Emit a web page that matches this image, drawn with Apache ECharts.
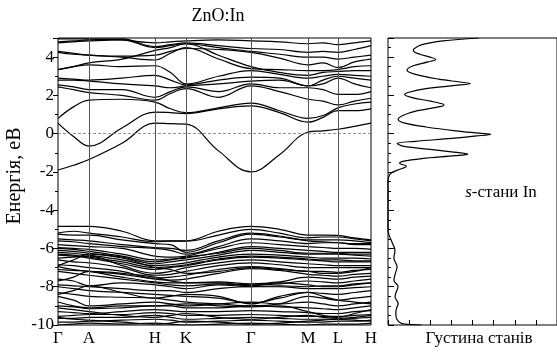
<!DOCTYPE html>
<html>
<head>
<meta charset="utf-8">
<script src="https://cdn.jsdelivr.net/npm/echarts@6/dist/echarts.min.js"></script>
<style>
  html, body { margin: 0; padding: 0; background: #fff; }
  #chart { width: 557px; height: 353px; }
</style>
</head>
<body>
<div id="chart"></div>
<script>
// k-path sample positions (Γ, ·, A, ·, H, ·, K, ·, Γ, ·, M, ·, L, ·, H)
const kPath = [0, 15.5, 31, 64, 97, 112.5, 128, 160.5, 193, 221.5, 250, 265, 280, 296.5, 313];
const kTicks = [0, 31, 97, 128, 193, 250, 280, 313];
const kLabels = ['Γ', 'A', 'H', 'K', 'Γ', 'M', 'L', 'H'];

// conduction bands, eV
const conductionBands = [
  [-1.9, -1.65, -1.35, -0.5, 0.55, 0.52, 0.5, -0.9, -2.0, -1.1, 0.08, 0.15, 0.23, 0.38, 0.55],
  [0.55, -0.15, -0.65, 0.3, 1.13, 1.1, 1.05, 1.3, 1.45, 1.1, 0.6, 0.85, 1.2, 1.2, 1.3],
  [0.8, 1.4, 1.75, 1.8, 1.65, 1.3, 1.1, 1.35, 1.6, 1.2, 0.8, 0.95, 1.35, 1.55, 1.65],
  [2.45, 2.3, 2.15, 2.0, 1.75, 2.1, 2.35, 1.9, 2.5, 2.2, 1.8, 1.7, 1.5, 1.7, 1.85],
  [2.55, 2.45, 2.3, 2.3, 1.9, 2.2, 2.45, 2.2, 2.6, 2.4, 2.4, 2.3, 2.05, 2.05, 2.2],
  [2.8, 2.8, 2.75, 2.6, 2.5, 2.4, 2.5, 2.6, 2.75, 2.8, 2.5, 2.6, 2.9, 2.6, 2.4],
  [2.9, 2.85, 2.8, 2.9, 3.05, 2.8, 2.55, 2.8, 2.95, 2.9, 2.5, 2.8, 3.0, 2.9, 2.8],
  [3.35, 3.5, 3.6, 3.5, 3.55, 3.2, 2.6, 3.0, 3.3, 3.1, 2.9, 3.0, 3.1, 3.05, 3.0],
  [3.35, 3.5, 3.7, 3.9, 4.35, 4.5, 4.7, 4.1, 3.5, 3.2, 3.05, 3.2, 3.25, 3.3, 3.3],
  [4.3, 4.2, 4.1, 4.0, 3.85, 4.2, 4.5, 3.9, 3.4, 3.35, 3.3, 3.3, 3.35, 3.5, 3.55],
  [4.25, 4.15, 4.1, 4.05, 4.1, 4.3, 4.45, 4.4, 4.25, 3.95, 3.6, 3.7, 3.45, 3.75, 3.9],
  [4.75, 4.8, 4.85, 4.9, 4.5, 4.6, 4.7, 4.5, 4.3, 4.15, 4.0, 4.0, 3.9, 4.0, 4.1],
  [4.8, 4.85, 4.9, 4.95, 4.55, 4.65, 4.75, 4.6, 4.45, 4.4, 4.25, 4.3, 4.25, 4.4, 4.6],
  [4.95, 4.95, 4.95, 4.9, 4.75, 4.8, 4.85, 4.9, 4.85, 4.8, 4.7, 4.75, 4.65, 4.75, 4.85]
];

// valence bands, eV
const valenceBands = [
  [-4.85, -4.85, -4.85, -5.1, -5.6, -5.6, -5.6, -5.1, -4.85, -5.0, -5.3, -5.3, -5.32, -5.45, -5.55],
  [-5.2, -5.1, -5.2, -5.4, -5.65, -5.62, -5.62, -5.3, -5.0, -5.2, -5.45, -5.4, -5.4, -5.5, -5.6],
  [-5.25, -5.3, -5.3, -5.55, -5.75, -5.8, -6.2, -5.7, -5.25, -5.4, -5.55, -5.55, -5.55, -5.6, -5.7],
  [-5.5, -5.55, -5.6, -5.8, -5.95, -6.0, -6.1, -5.6, -5.2, -5.35, -5.6, -5.65, -5.7, -5.75, -5.75],
  [-5.6, -5.65, -5.75, -5.9, -6.0, -6.1, -6.3, -5.9, -5.5, -5.6, -5.75, -5.7, -5.7, -5.8, -5.8],
  [-5.8, -5.85, -5.9, -6.0, -6.4, -6.45, -6.4, -6.0, -5.7, -5.8, -5.9, -5.95, -6.0, -6.0, -6.05],
  [-5.95, -6.0, -6.05, -6.3, -6.6, -6.55, -6.5, -6.2, -5.9, -6.0, -6.1, -6.15, -6.2, -6.2, -6.2],
  [-6.0, -6.05, -6.15, -6.4, -6.7, -6.6, -6.45, -6.25, -6.0, -6.1, -6.25, -6.25, -6.25, -6.3, -6.3],
  [-6.1, -6.15, -6.25, -6.45, -6.8, -6.7, -6.6, -6.35, -6.1, -6.2, -6.3, -6.3, -6.3, -6.35, -6.4],
  [-6.2, -6.25, -6.35, -6.6, -6.9, -6.85, -6.75, -6.45, -6.3, -6.35, -6.45, -6.5, -6.5, -6.5, -6.55],
  [-6.3, -6.35, -6.45, -6.7, -7.0, -6.95, -6.85, -6.55, -6.4, -6.45, -6.55, -6.6, -6.6, -6.65, -6.65],
  [-6.35, -6.4, -6.5, -6.8, -7.1, -7.0, -6.9, -6.6, -6.45, -6.5, -6.6, -6.65, -6.7, -6.7, -6.7],
  [-6.5, -6.45, -6.4, -6.9, -7.3, -7.2, -7.0, -6.75, -6.6, -6.7, -6.8, -6.85, -6.9, -6.9, -6.9],
  [-6.6, -6.7, -6.75, -7.0, -7.4, -7.35, -7.2, -6.9, -6.75, -6.85, -7.0, -7.0, -7.0, -7.0, -7.0],
  [-6.85, -6.9, -7.0, -7.2, -7.55, -7.5, -7.4, -7.1, -6.95, -7.05, -7.2, -7.2, -7.25, -7.15, -7.1],
  [-6.9, -6.6, -6.3, -6.5, -7.0, -7.1, -7.3, -7.2, -7.0, -7.1, -7.2, -7.3, -7.3, -7.2, -7.0],
  [-6.95, -7.1, -7.2, -7.35, -7.6, -7.65, -7.6, -7.3, -7.05, -7.15, -7.35, -7.4, -7.45, -7.35, -7.3],
  [-7.1, -7.15, -7.2, -7.5, -7.75, -7.8, -7.8, -7.75, -7.85, -7.75, -7.5, -7.55, -7.6, -7.5, -7.45],
  [-7.2, -7.3, -7.4, -7.6, -7.8, -7.9, -7.95, -7.85, -7.9, -7.85, -7.7, -7.75, -7.8, -7.7, -7.6],
  [-7.7, -7.5, -7.2, -7.3, -7.5, -7.7, -7.8, -7.8, -7.95, -7.8, -7.9, -8.0, -8.0, -7.9, -7.8],
  [-7.6, -7.7, -7.95, -7.8, -7.9, -8.0, -8.1, -7.9, -8.0, -7.95, -8.0, -7.95, -7.95, -7.85, -7.8],
  [-7.9, -7.95, -8.0, -8.1, -8.2, -8.2, -8.3, -8.1, -8.0, -8.0, -8.1, -8.1, -8.1, -8.05, -8.0],
  [-8.0, -8.1, -8.2, -8.3, -8.4, -8.45, -8.5, -8.6, -8.85, -8.6, -8.3, -8.35, -8.4, -8.3, -8.2],
  [-8.4, -8.2, -7.95, -8.3, -8.6, -8.5, -8.4, -8.5, -8.9, -8.5, -8.3, -8.5, -8.7, -8.8, -8.9],
  [-8.3, -8.4, -8.5, -8.55, -8.6, -8.7, -8.8, -8.9, -9.0, -8.9, -8.5, -8.6, -8.7, -8.6, -8.5],
  [-8.5, -8.7, -9.0, -8.9, -8.8, -8.9, -9.0, -8.9, -8.8, -8.9, -8.8, -8.9, -9.0, -8.9, -8.8],
  [-8.8, -9.0, -9.1, -9.0, -9.0, -8.95, -8.9, -9.0, -9.05, -9.0, -9.3, -9.5, -9.6, -9.4, -9.2],
  [-9.0, -9.05, -9.15, -9.1, -9.0, -9.0, -9.1, -9.1, -9.0, -9.05, -9.1, -9.15, -9.2, -9.1, -9.0],
  [-9.1, -9.2, -9.3, -9.5, -9.6, -9.5, -9.4, -9.6, -9.7, -9.6, -9.5, -9.6, -9.65, -9.6, -9.5],
  [-9.3, -9.35, -9.4, -9.3, -9.2, -9.25, -9.3, -9.3, -9.25, -9.3, -9.35, -9.4, -9.4, -9.3, -9.25],
  [-9.55, -9.5, -9.45, -9.45, -9.35, -9.4, -9.5, -9.5, -9.45, -9.5, -9.55, -9.55, -9.55, -9.5, -9.45],
  [-9.6, -9.7, -9.75, -9.85, -9.95, -9.9, -9.8, -9.85, -9.95, -9.9, -9.8, -9.75, -9.7, -9.75, -9.8],
  [-9.65, -9.65, -9.6, -9.6, -9.5, -9.6, -9.7, -9.65, -9.6, -9.65, -9.7, -9.7, -9.7, -9.65, -9.6],
  [-9.85, -9.85, -9.8, -9.75, -9.7, -9.75, -9.85, -9.8, -9.75, -9.8, -9.85, -9.85, -9.8, -9.8, -9.75],
  [-10.0, -9.95, -9.9, -9.95, -9.9, -9.95, -10.0, -9.95, -9.9, -9.95, -10.0, -9.95, -9.95, -9.95, -9.9]
];

// In s-states density of states
const dosEnergy = [5.0, 4.85, 4.65, 4.45, 4.35, 4.15, 4.0, 3.88, 3.75, 3.55, 3.32, 3.1, 2.85, 2.7, 2.62, 2.52, 2.35, 2.15, 2.05, 1.9, 1.7, 1.55, 1.49, 1.4, 1.2, 0.95, 0.74, 0.55, 0.35, 0.15, 0.03, -0.03, -0.12, -0.25, -0.4, -0.51, -0.65, -0.85, -1.0, -1.07, -1.15, -1.3, -1.45, -1.55, -1.7, -1.85, -2.05, -2.3, -2.5, -5.0, -5.3, -5.7, -6.1, -6.5, -6.96, -7.3, -7.66, -8.0, -8.3, -8.53, -8.87, -9.15, -9.4, -9.7, -9.9, -9.95, -10.0];
const dosValue = [4.3, 2.6, 1.6, 1.25, 1.2, 1.5, 2.0, 2.26, 1.9, 1.2, 0.9, 1.3, 2.4, 3.4, 3.9, 3.2, 1.8, 0.95, 0.79, 1.1, 2.0, 2.6, 2.65, 2.4, 1.4, 0.7, 0.48, 0.8, 1.8, 3.2, 4.3, 4.87, 4.2, 3.0, 1.3, 0.43, 0.7, 2.2, 3.4, 3.78, 3.2, 1.6, 0.7, 0.55, 0.87, 0.6, 0.15, 0.02, 0, 0, 0.05, 0.2, 0.33, 0.28, 0.43, 0.35, 0.28, 0.48, 0.38, 0.33, 0.48, 0.4, 0.37, 0.42, 0.6, 0.8, 1.6];

const serif = '"Liberation Serif", "Times New Roman", serif';
const chart = echarts.init(document.getElementById('chart'));

const bandSeries = conductionBands.concat(valenceBands).map(band => ({
  type: 'line',
  xAxisIndex: 0,
  yAxisIndex: 0,
  data: band.map((e, j) => [kPath[j], e]),
  smooth: 0.4,
  symbol: 'none',
  silent: true,
  lineStyle: { color: '#000', width: 1.2 }
}));

bandSeries[0].markLine = {
  symbol: 'none',
  silent: true,
  label: { show: false },
  lineStyle: { color: '#555', width: 1, type: 'solid' },
  data: kTicks.slice(1, -1).map(v => ({ xAxis: v }))
};
bandSeries[1].markLine = {
  symbol: 'none',
  silent: true,
  label: { show: false },
  lineStyle: { color: '#777', width: 0.8, type: [3, 2] },
  data: [{ yAxis: 0 }]
};

const option = {
  animation: false,
  backgroundColor: '#fff',
  textStyle: { fontFamily: serif },
  grid: [
    { left: 58, top: 38, width: 313, height: 287, show: true, borderColor: '#000', borderWidth: 1 },
    { left: 388, top: 38, width: 172, height: 287, show: true, borderColor: '#000', borderWidth: 1 }
  ],
  xAxis: [
    {
      gridIndex: 0, type: 'value', min: 0, max: 313,
      axisLine: { show: false, onZero: false },
      axisTick: { show: false },
      splitLine: { show: false },
      axisLabel: {
        customValues: kTicks,
        formatter: v => kLabels[kTicks.indexOf(v)],
        color: '#000', fontFamily: serif, fontSize: 17, margin: 5
      }
    },
    {
      gridIndex: 1, type: 'value', min: 0, max: 8, interval: 1,
      axisLine: { show: false, onZero: false },
      axisTick: { show: true, inside: true, length: 5, lineStyle: { color: '#000' } },
      axisLabel: { show: false },
      splitLine: { show: false }
    }
  ],
  yAxis: [
    {
      gridIndex: 0, type: 'value', min: -10, max: 5, interval: 2,
      axisLine: { show: false, onZero: false },
      axisTick: { show: true, length: 5, lineStyle: { color: '#000' } },
      minorTick: { show: true, splitNumber: 2, length: 3, lineStyle: { color: '#000' } },
      splitLine: { show: false },
      axisLabel: { color: '#000', fontFamily: serif, fontSize: 17, margin: 4, showMaxLabel: false }
    },
    {
      gridIndex: 1, type: 'value', min: -10, max: 5, interval: 2,
      axisLine: { show: false, onZero: false },
      axisTick: { show: true, inside: true, length: 6, lineStyle: { color: '#000' } },
      minorTick: { show: true, splitNumber: 4, length: 3, lineStyle: { color: '#000' } },
      splitLine: { show: false },
      axisLabel: { show: false }
    }
  ],
  series: bandSeries.concat([{
    type: 'line',
    xAxisIndex: 1,
    yAxisIndex: 1,
    data: dosEnergy.map((e, i) => [dosValue[i], e]),
    smooth: 0.35,
    symbol: 'none',
    silent: true,
    lineStyle: { color: '#000', width: 1.2 }
  }]),
  graphic: [
    {
      type: 'text', x: 218, y: 16,
      style: { text: 'ZnO:In', fontFamily: serif, fontSize: 18, fill: '#000', align: 'center', verticalAlign: 'middle' }
    },
    {
      type: 'text', x: 15, y: 176, rotation: Math.PI / 2,
      style: { text: 'Енергія, еВ', fontFamily: serif, fontSize: 20, fill: '#000', align: 'center', verticalAlign: 'middle' }
    },
    {
      type: 'text', x: 501, y: 193,
      style: {
        text: '{i|s}-стани In',
        fontFamily: serif, fontSize: 17, fill: '#000', align: 'center', verticalAlign: 'middle',
        rich: { i: { fontStyle: 'italic', fontFamily: serif, fontSize: 17 } }
      }
    },
    {
      type: 'text', x: 479, y: 339,
      style: { text: 'Густина станів', fontFamily: serif, fontSize: 17, fill: '#000', align: 'center', verticalAlign: 'middle' }
    }
  ]
};

chart.setOption(option);
</script>
</body>
</html>
